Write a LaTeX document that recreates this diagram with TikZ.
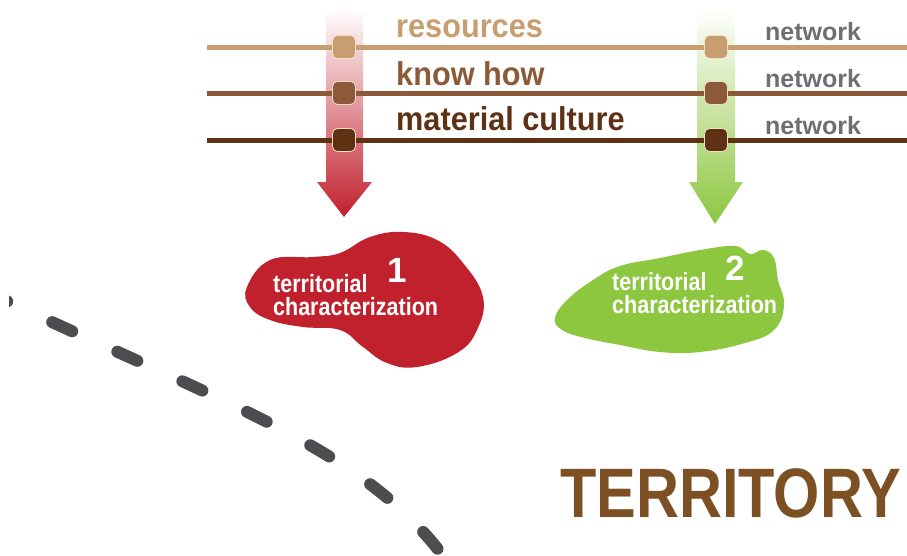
\documentclass[tikz,border=0pt]{standalone}
\usepackage{fontspec}
\setmainfont{Liberation Sans}
\newfontfamily\narrowfont[FakeStretch=0.93]{Liberation Sans}
\newfontfamily\blobfont[FakeStretch=0.86]{Liberation Sans}
\newfontfamily\titlefont[FakeStretch=0.85]{Liberation Sans}
\usetikzlibrary{positioning, calc}
\definecolor{restan}{RGB}{200,158,112}
\definecolor{knowbrown}{RGB}{140,90,56}
\definecolor{matbrown}{RGB}{94,48,20}
\definecolor{netgray}{RGB}{110,110,115}
\definecolor{terrbrown}{RGB}{125,80,36}
\definecolor{charred}{RGB}{193,32,45}
\definecolor{chargreen}{RGB}{141,198,63}
\definecolor{dashgray}{RGB}{77,77,79}
\definecolor{beadrim}{RGB}{240,222,195}

\begin{document}
\begin{tikzpicture}[
    x=1pt, y=-1pt,
    strand/.style={line width=5pt},
    bead/.style={rectangle, rounded corners=5pt, minimum size=23pt, inner sep=0pt, draw=beadrim, line width=0.8pt},
    layertext/.style={anchor=base west, inner sep=0pt, font=\narrowfont\bfseries\fontsize{33}{36}\selectfont},
    nettext/.style={anchor=base west, inner sep=0pt, text=netgray, font=\bfseries\fontsize{25}{28}\selectfont},
    blobtext/.style={anchor=base west, inner sep=0pt, text=white, font=\blobfont\bfseries\fontsize{25}{28}\selectfont},
    numtext/.style={anchor=base west, inner sep=0pt, text=white, font=\bfseries\fontsize{35}{38}\selectfont}
]
\useasboundingbox (0,0) rectangle (907,555);

% Dashed border of the territory
\begin{scope}
\clip (9,0) rectangle (907,555);
\draw[dashgray, line width=12pt, line cap=round, dash pattern=on 22pt off 49.5pt, dash phase=14pt]
    (0,298) .. controls (250,415) and (380,455) .. (460,580);
\end{scope}

% Shaded arrows
\shade[top color=white, bottom color=charred]
    (326,8) -- (363,8) -- (363,182) -- (372,182) -- (344,217) -- (317,182) -- (326,182) -- cycle;
\shade[top color=white, bottom color=chargreen]
    (697,8) -- (735,8) -- (735,182) -- (743,182) -- (715,224) -- (689,182) -- (697,182) -- cycle;

% Strands
\coordinate (resL) at (207,47);  \coordinate (resR) at (907,47);
\coordinate (knowL) at (207,93); \coordinate (knowR) at (907,93);
\coordinate (matL) at (207,140); \coordinate (matR) at (907,140);
\draw[strand, restan] (resL) -- (resR);
\draw[strand, knowbrown] (knowL) -- (knowR);
\draw[strand, matbrown] (matL) -- (matR);

% Beads
\node[bead, fill=restan] (res1) at (344,47) {};
\node[bead, fill=knowbrown] (know1) at (344,93) {};
\node[bead, fill=matbrown] (mat1) at (344,140) {};
\node[bead, fill=restan] (res2) at (716,47) {};
\node[bead, fill=knowbrown] (know2) at (716,93) {};
\node[bead, fill=matbrown] (mat2) at (716,140) {};

% Labels
\node[layertext, text=restan] (res) at (396,37) {resources};
\node[layertext, text=knowbrown] (know) at (396,85) {know how};
\node[layertext, text=matbrown] (mat) at (396,130) {material culture};
\node[nettext] (net1) at (765,40) {network};
\node[nettext] (net2) at (765,87) {network};
\node[nettext] (net3) at (765,134) {network};

% Characterizations
\fill[charred] plot[smooth cycle, tension=0.7] coordinates {
    (247,287) (270,260) (313,257) (340,253) (370,237) (403,232) (437,240) (463,263)
    (483,297) (477,330) (457,353) (417,367) (387,363) (363,347) (340,330) (303,327)
    (270,320) (250,307)};
\node[blobtext] (terr1) at (273,292) {territorial};
\node[blobtext] (char1) at (273,315) {characterization};
\node[numtext] (num1) at (387,282) {1};

\fill[chargreen] plot[smooth cycle, tension=0.7] coordinates {
    (555,318) (567,300) (593,280) (620,266) (660,258) (700,250) (735,246) (750,254)
    (763,250) (774,258) (778,280) (784,305) (774,330) (745,343) (700,352) (660,352)
    (620,345) (585,338) (562,330)};
\node[blobtext] (terr2) at (612,290) {territorial};
\node[blobtext] (char2) at (612,313) {characterization};
\node[numtext] (num2) at (725,280) {2};

% Title
\node[anchor=base west, inner sep=0pt, text=terrbrown, font=\titlefont\bfseries\fontsize{70}{72}\selectfont] (title) at (560,517) {TERRITORY};

\end{tikzpicture}
\end{document}
